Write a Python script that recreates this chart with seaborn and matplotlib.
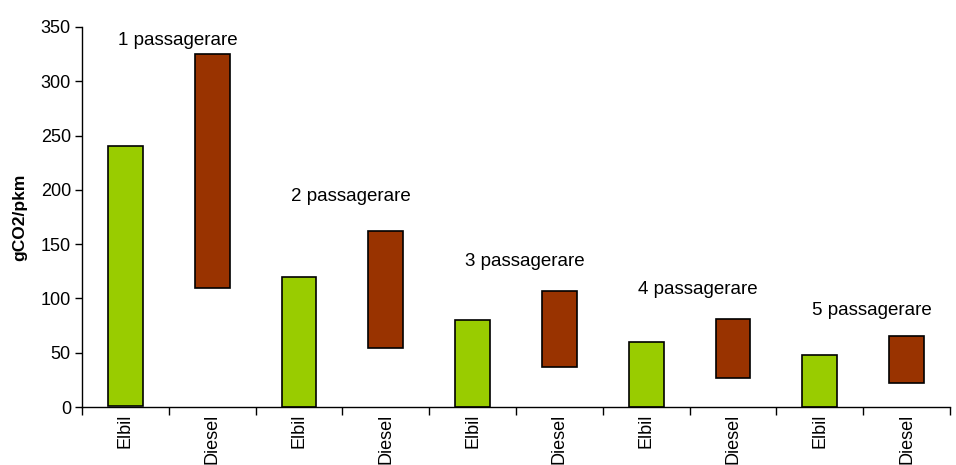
import numpy as np
import pandas as pd
import seaborn as sns
from matplotlib import pyplot as plt

# data
passengers = [1, 2, 3, 4, 5]
elbil_low = [1, 0, 0, 0, 0]
elbil_high = [240, 120, 80, 60, 48]
diesel_low = [110, 54, 37, 27, 22]
diesel_high = [325, 162, 107, 81, 65]
group_labels = ['%d passagerare' % p for p in passengers]
label_y = [338, 194, 134, 108, 89]

cats = []
for p in passengers:
    cats += ['Elbil %d' % p, 'Diesel %d' % p]

el = pd.DataFrame({'cat': ['Elbil %d' % p for p in passengers],
                   'h': np.array(elbil_high) - np.array(elbil_low)})
di = pd.DataFrame({'cat': ['Diesel %d' % p for p in passengers],
                   'h': np.array(diesel_high) - np.array(diesel_low)})

sns.set_style('white')
plt.rcParams['font.family'] = ['Liberation Sans', 'DejaVu Sans']
plt.rcParams['text.color'] = 'black'
plt.rcParams['axes.labelcolor'] = 'black'
plt.rcParams['xtick.color'] = 'black'
plt.rcParams['ytick.color'] = 'black'

fig = plt.figure(figsize=(9.56, 4.65), dpi=100)
ax = fig.add_axes([0.0858, 0.1247, 0.9079, 0.8173])

sns.barplot(data=el, x='cat', y='h', order=cats, color='#99CC00', saturation=1,
            width=0.4, edgecolor='black', linewidth=1.2, bottom=elbil_low, ax=ax)
sns.barplot(data=di, x='cat', y='h', order=cats, color='#993300', saturation=1,
            width=0.4, edgecolor='black', linewidth=1.2, bottom=diesel_low, ax=ax)

for i, (lab, yy) in enumerate(zip(group_labels, label_y)):
    ax.text(2 * i + 0.6, yy, lab, ha='center', va='center', fontsize=13.5, color='black')

ax.set_xlim(-0.5, len(cats) - 0.5)
ax.set_ylim(0, 350)
ax.set_yticks(range(0, 351, 50))
ax.set_xticks(range(len(cats)))
ax.set_xticklabels([c.split()[0] for c in cats], rotation=90, fontsize=13)
ax.set_xticks(np.arange(-0.5, len(cats), 1), minor=True)
ax.tick_params(axis='x', which='major', length=0, pad=5, labelcolor='black')
ax.tick_params(axis='x', which='minor', length=6, width=1, color='black', direction='out', bottom=True)
ax.tick_params(axis='y', length=5, width=1, color='black', direction='out', left=True,
               labelsize=13, pad=3, labelcolor='black')
ax.set_xlabel('')
ax.set_ylabel('gCO2/pkm', fontsize=12.5, fontweight='bold', labelpad=10, color='black')
for s in ['top', 'right']:
    ax.spines[s].set_visible(False)
for s in ['left', 'bottom']:
    ax.spines[s].set_color('black')
    ax.spines[s].set_linewidth(1)

plt.savefig('out.png', dpi=100)
